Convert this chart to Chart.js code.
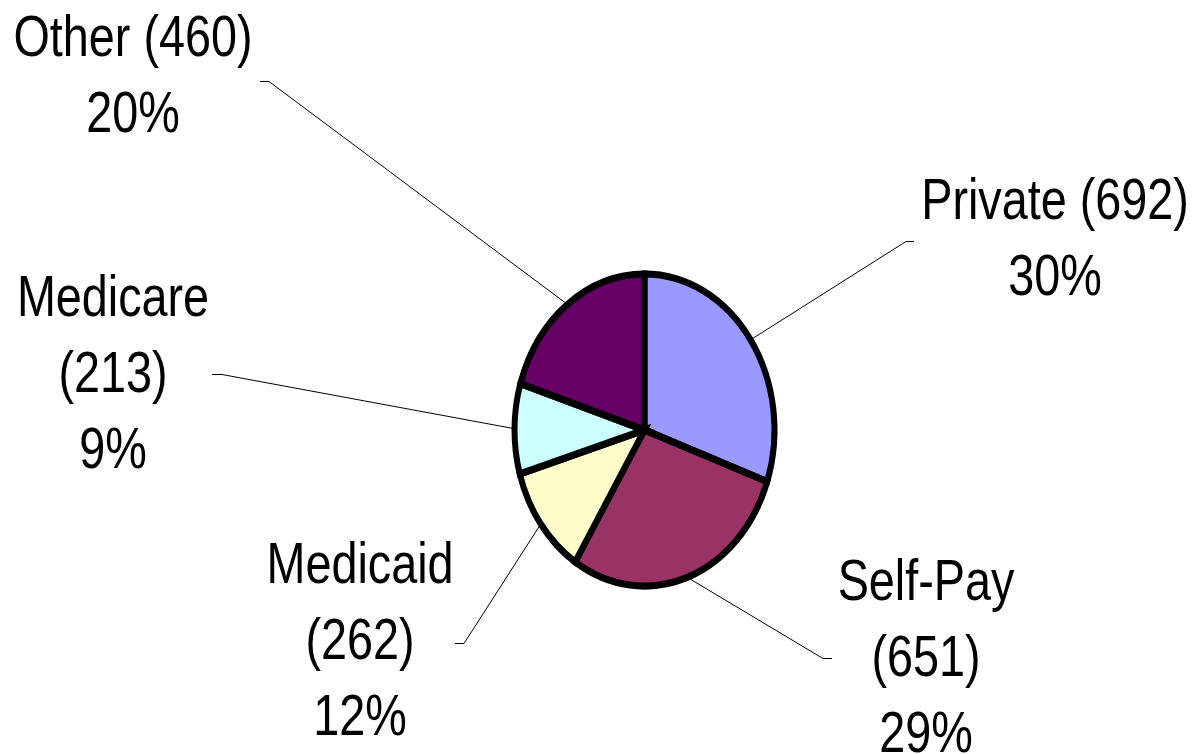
<!DOCTYPE html>
<html>
<head>
<meta charset="utf-8">
<script src="https://cdn.jsdelivr.net/npm/chart.js@4"></script>
<style>
  html, body { margin: 0; padding: 0; background: #fff; }
  #payerChart { display: block; }
</style>
</head>
<body>
<canvas id="payerChart" width="1193" height="754"></canvas>
<script>
// Patients by payer type
const payers = ["Private", "Self-Pay", "Medicaid", "Medicare", "Other"];
const patients = [692, 651, 262, 213, 460];
const sliceColors = ["#9999FF", "#993366", "#FFFFCC", "#CCFFFF", "#660066"];

// where each label sits, and the short elbow of its leader line
const labelLayout = [
  { x: 1055, y: 219, split: false, elbow: [[914, 241], [906, 241]] },
  { x: 926, y: 600, split: true, elbow: [[832, 658], [823, 658]] },
  { x: 360, y: 583, split: true, elbow: [[455, 643], [464, 643]] },
  { x: 113, y: 316, split: true, elbow: [[212, 374], [222, 374]] },
  { x: 133, y: 56, split: false, elbow: [[260, 81], [269, 81]] }
];

const yStretch = 1.2;   // pie is drawn as an upright ellipse
const fontSize = 57;
const lineGap = 76;

const total = patients.reduce((acc, v) => acc + v, 0);

function labelLines(i) {
  const pct = Math.round(patients[i] / total * 100) + "%";
  if (labelLayout[i].split) {
    return [payers[i], "(" + patients[i] + ")", pct];
  }
  return [payers[i] + " (" + patients[i] + ")", pct];
}

// use the narrow face if it is there, otherwise squeeze the regular one
function pickFont(ctx) {
  ctx.font = fontSize + 'px "Liberation Sans Narrow"';
  const narrow = ctx.measureText("Medicare").width;
  ctx.font = fontSize + 'px "Liberation Sans"';
  const regular = ctx.measureText("Medicare").width;
  if (narrow < regular * 0.9) {
    return { family: '"Liberation Sans Narrow"', squeeze: 1 };
  }
  return { family: '"Liberation Sans"', squeeze: 0.82 };
}

const ellipsePlugin = {
  id: "ellipse",
  beforeDatasetsDraw(chart) {
    const arc = chart.getDatasetMeta(0).data[0];
    const ctx = chart.ctx;
    ctx.save();
    ctx.translate(arc.x, arc.y);
    ctx.scale(1, yStretch);
    ctx.translate(-arc.x, -arc.y);
  },
  afterDatasetsDraw(chart) {
    chart.ctx.restore();
  }
};

const labelPlugin = {
  id: "payerLabels",
  afterDraw(chart) {
    const ctx = chart.ctx;
    const font = pickFont(ctx);
    chart.getDatasetMeta(0).data.forEach((arc, i) => {
      const layout = labelLayout[i];
      const mid = (arc.startAngle + arc.endAngle) / 2;
      const edgeX = arc.x + Math.cos(mid) * arc.outerRadius;
      const edgeY = arc.y + Math.sin(mid) * arc.outerRadius * yStretch;

      // leader line
      ctx.save();
      ctx.strokeStyle = "#000";
      ctx.lineWidth = 1;
      ctx.beginPath();
      ctx.moveTo(layout.elbow[0][0], layout.elbow[0][1] + 0.5);
      ctx.lineTo(layout.elbow[1][0], layout.elbow[1][1] + 0.5);
      ctx.lineTo(edgeX, edgeY);
      ctx.stroke();
      ctx.restore();

      // label text
      labelLines(i).forEach((line, n) => {
        ctx.save();
        ctx.translate(layout.x, layout.y + n * lineGap);
        ctx.scale(font.squeeze, 1);
        ctx.font = fontSize + "px " + font.family;
        ctx.fillStyle = "#000";
        ctx.textAlign = "center";
        ctx.textBaseline = "alphabetic";
        ctx.fillText(line, 0, 0);
        ctx.restore();
      });
    });
  }
};

const ctx = document.getElementById("payerChart").getContext("2d");
new Chart(ctx, {
  type: "pie",
  data: {
    labels: payers,
    datasets: [{
      data: patients,
      backgroundColor: sliceColors,
      borderColor: "#000",
      borderWidth: 6,
      borderJoinStyle: "miter"
    }]
  },
  options: {
    responsive: false,
    animation: false,
    radius: 130,
    layout: { padding: { left: 96, right: 0, top: 106, bottom: 0 } },
    plugins: {
      legend: { display: false },
      tooltip: { enabled: false }
    }
  },
  plugins: [ellipsePlugin, labelPlugin]
});
</script>
</body>
</html>
